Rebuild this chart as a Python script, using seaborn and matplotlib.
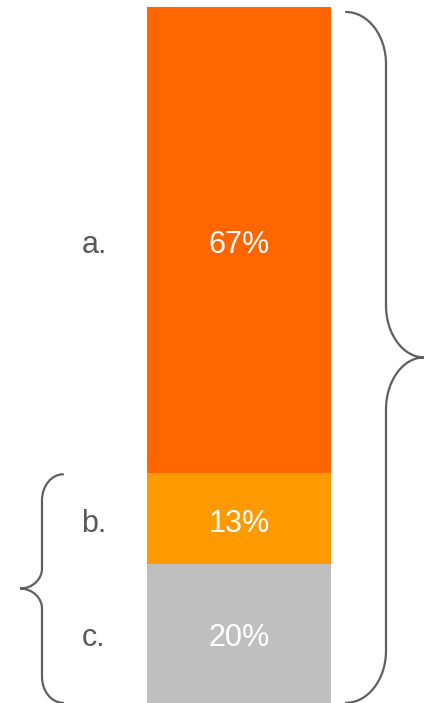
import numpy as np
import pandas as pd
import matplotlib
matplotlib.use('Agg')
import matplotlib.pyplot as plt
import seaborn as sns
from matplotlib.path import Path
from matplotlib.patches import PathPatch

# 데이터
segments = ['a.', 'b.', 'c.']
shares = [67, 13, 20]
colors = ['#FF6600', '#FF9900', '#BFBFBF']

sns.set_style('white')
plt.rcParams['font.family'] = ['Liberation Sans', 'DejaVu Sans']

# 누적값 (아래부터 c, b, a)
tops = np.cumsum(shares[::-1])[::-1]          # [100, 33, 20]
bottoms = tops - np.array(shares)             # [33, 20, 0]

fig = plt.figure(figsize=(4.26, 7.03), dpi=100)
ax = fig.add_axes([0, 0, 1, 1])

# 겹쳐 그리기로 스택 막대 구현 (큰 값부터)
for seg, top, col in zip(segments, tops, colors):
    df = pd.DataFrame({'k': ['bar'], 'v': [top]})
    sns.barplot(data=df, x='k', y='v', color=col, width=0.8,
                saturation=1, ax=ax, edgecolor='none')

ax.set_xlim(-239 / 230, 187 / 230)
ax.set_ylim(0, 100 * 703 / 696)
ax.axis('off')

px_x = 1 / 230     # 1 pixel in x data units
px_y = 1 / 6.96    # 1 pixel in y data units

# 텍스트
for seg, share, top, bot in zip(segments, shares, tops, bottoms):
    ymid = (top + bot) / 2 - 5 * px_y
    ax.text(0, ymid, f'{share}%', ha='center', va='center',
            color='white', fontsize=22)
    ax.text(-145 * px_x, ymid, seg, ha='center', va='center',
            color='#595959', fontsize=22)


def brace(x0, x1, x2, ytop, ybot, r, r2, color='#606060'):
    k = 0.55
    ymid = (ytop + ybot) / 2
    verts = [
        (x0, ytop),
        (x0 + k * (x1 - x0), ytop), (x1, ytop - (1 - k) * r), (x1, ytop - r),
        (x1, ymid + r2),
        (x1, ymid + r2 - k * r2), (x2 - k * (x2 - x1), ymid), (x2, ymid),
        (x2 - k * (x2 - x1), ymid), (x1, ymid - r2 + k * r2), (x1, ymid - r2),
        (x1, ybot + r),
        (x1, ybot + (1 - k) * r), (x0 + k * (x1 - x0), ybot), (x0, ybot),
    ]
    codes = [Path.MOVETO,
             Path.CURVE4, Path.CURVE4, Path.CURVE4,
             Path.LINETO,
             Path.CURVE4, Path.CURVE4, Path.CURVE4,
             Path.CURVE4, Path.CURVE4, Path.CURVE4,
             Path.LINETO,
             Path.CURVE4, Path.CURVE4, Path.CURVE4]
    ax.add_patch(PathPatch(Path(verts, codes), facecolor='none',
                           edgecolor=color, lw=1.6, capstyle='round'))


bar_r, bar_l = 0.4, -0.4
# 오른쪽 괄호: 전체
brace(bar_r + 15 * px_x, bar_r + 55 * px_x, bar_r + 93 * px_x,
      tops[0] - 5 * px_y, 0.2 * px_y, 52 * px_y, 52 * px_y)
# 왼쪽 괄호: b + c
brace(bar_l - 84 * px_x, bar_l - 105 * px_x, bar_l - 127 * px_x,
      tops[1] - 1 * px_y, 0.2 * px_y, 26 * px_y, 20 * px_y)

plt.savefig('out.png', dpi=100)
